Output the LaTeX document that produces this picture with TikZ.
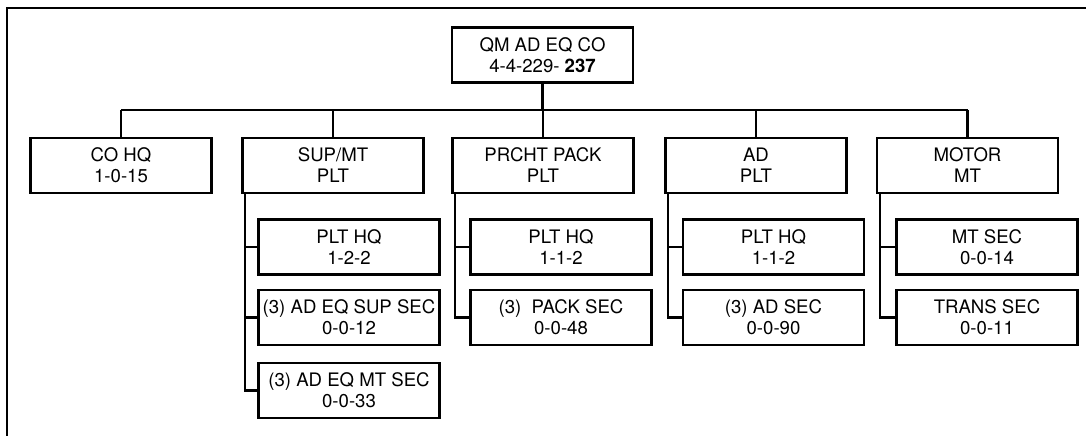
\documentclass[tikz,border=0pt]{standalone}
\usepackage{fontspec}
\setmainfont{TeX Gyre Heros}
\begin{document}
\begin{tikzpicture}[x=1pt,y=-1pt,
  orgbox/.style={draw, line width=2.6pt, minimum width=181pt, minimum height=55pt,
    inner sep=0pt, align=center, font=\fontsize{18.6}{21}\selectfont},
  conn/.style={line width=2.2pt},
  frameline/.style={line width=1.8pt}]
\useasboundingbox (0,0) rectangle (1086,436);
\draw[frameline] (7,437) -- (7,8) -- (1087,8);

\node[orgbox] (top) at (542.5,55) {QM AD EQ CO\\4-4-229- \textbf{237}};

\node[orgbox] (co)  at (121,165.5) {CO HQ\\1-0-15};
\node[orgbox] (sup) at (333,165.5) {SUP/MT\\PLT};
\node[orgbox] (pr)  at (543,165.5) {PRCHT PACK\\PLT};
\node[orgbox] (ad)  at (756,165.5) {AD\\PLT};
\node[orgbox] (mot) at (967.5,165.5) {MOTOR\\MT};

\node[orgbox] (sup1) at (349,247) {PLT HQ\\1-2-2};
\node[orgbox] (sup2) at (349,317.5) {(3) AD EQ SUP SEC\\0-0-12};
\node[orgbox] (sup3) at (349,390.5) {(3) AD EQ MT SEC\\0-0-33};

\node[orgbox] (pr1) at (561,247) {PLT HQ\\1-1-2};
\node[orgbox] (pr2) at (561,317.5) {(3)~ PACK SEC\\0-0-48};

\node[orgbox] (ad1) at (773.5,247) {PLT HQ\\1-1-2};
\node[orgbox] (ad2) at (773.5,317.5) {(3) AD SEC\\0-0-90};

\node[orgbox] (mot1) at (987,247) {MT SEC\\0-0-14};
\node[orgbox] (mot2) at (987,317.5) {TRANS SEC\\0-0-11};

\coordinate (bus) at (542.5,110);
\draw[conn] (top.south) -- (bus);
\draw[conn] (bus -| co.north) -- (bus -| mot.north);
\foreach \n in {co,sup,pr,ad,mot}{
  \draw[conn] (bus -| \n.north) -- (\n.north);
}

\coordinate (supspine) at ([xshift=4pt]sup.south west);
\coordinate (prspine) at ([xshift=4pt]pr.south west);
\coordinate (adspine) at ([xshift=4pt]ad.south west);
\coordinate (motspine) at ([xshift=4pt]mot.south west);

\draw[conn] (supspine) |- (sup3.west);
\draw[conn] (sup1.west) -- (sup1.west -| supspine);
\draw[conn] (sup2.west) -- (sup2.west -| supspine);

\draw[conn] (prspine) |- (pr2.west);
\draw[conn] (pr1.west) -- (pr1.west -| prspine);

\draw[conn] (adspine) |- (ad2.west);
\draw[conn] (ad1.west) -- (ad1.west -| adspine);

\draw[conn] (motspine) |- (mot2.west);
\draw[conn] (mot1.west) -- (mot1.west -| motspine);
\end{tikzpicture}
\end{document}
